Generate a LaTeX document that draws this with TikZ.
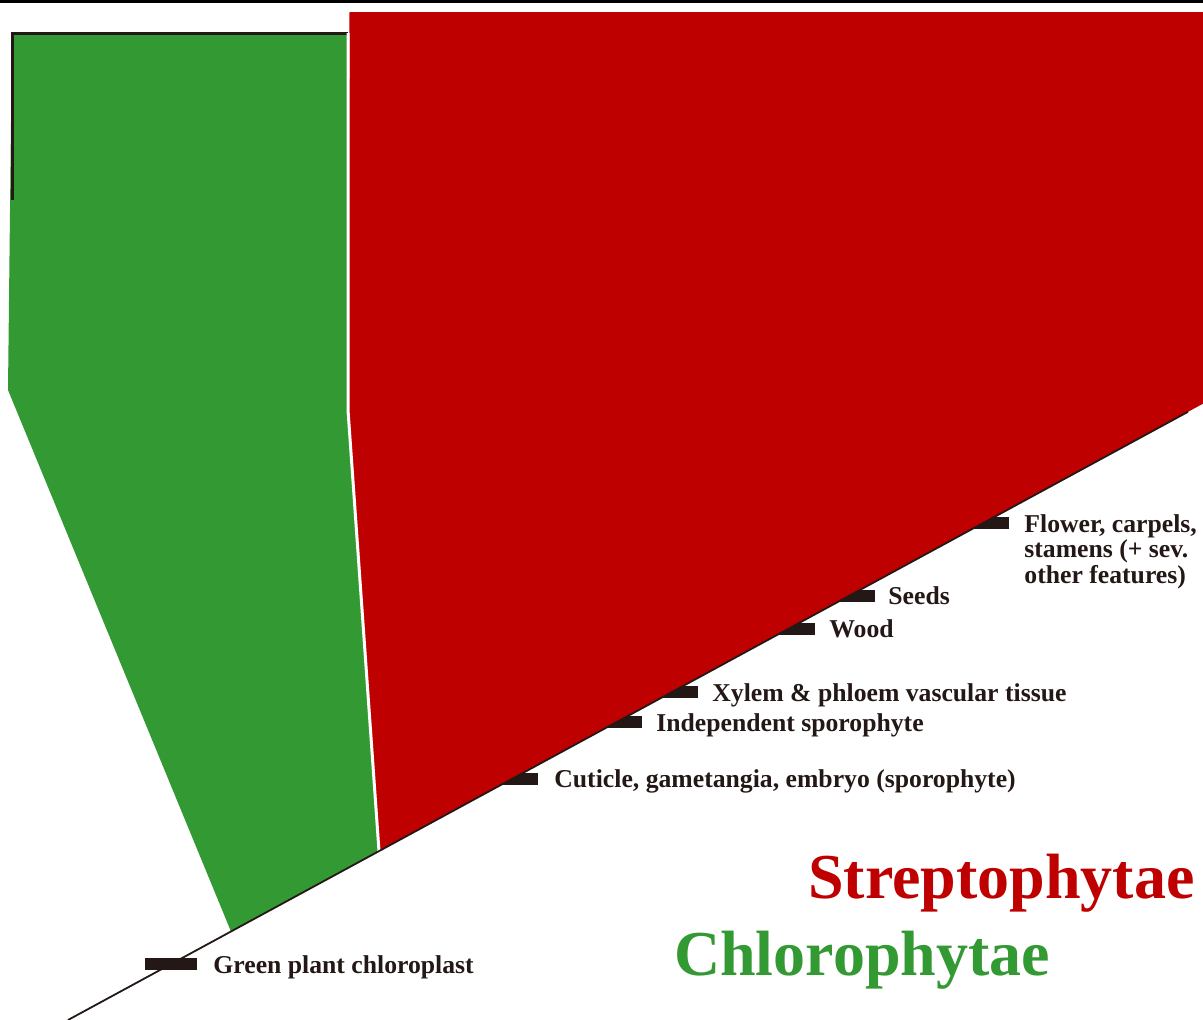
\documentclass[tikz,border=0pt]{standalone}
\usepackage{fontspec}
\setmainfont{Liberation Serif}
\definecolor{pgreen}{HTML}{339933}
\definecolor{pred}{HTML}{BF0000}
\definecolor{ink}{HTML}{231815}
\begin{document}
\begin{tikzpicture}[x=1pt,y=-1pt,
  tickbar/.style={fill=ink, draw=none, minimum width=52pt, minimum height=12pt, inner sep=0pt},
  lbl/.style={anchor=base west, inner sep=0pt, text=ink, font=\fontsize{25.7}{25.5}\selectfont\bfseries},
  biglbl/.style={anchor=base west, inner sep=0pt, font=\fontsize{64}{64}\selectfont\bfseries},
]
\useasboundingbox (0,0) rectangle (1203,1020);
\fill[black] (0,0) rectangle (1203,3);
% base line coordinates (y = 1020 - 0.543 (x-68))
\coordinate (b0) at (68,1020);
\coordinate (b1) at (1188,411.8);
\coordinate (bR) at (1203,403.7);
\coordinate (gB) at (231,931.5);
\coordinate (sB) at (379,851.1);
\coordinate (kink) at (348,410);
% ticks
\node[tickbar] (t1) at (171,964.1) {};
\node[tickbar] (t2) at (512,778.9) {};
\node[tickbar] (t3) at (616,722.4) {};
\node[tickbar] (t4) at (672,692.0) {};
\node[tickbar] (t5) at (789,628.5) {};
\node[tickbar] (t6) at (849,595.9) {};
\node[tickbar] (t7) at (983,523.2) {};
% green region
\fill[pgreen] (12,33) -- (348,33) -- (kink) -- (sB) -- (gB) -- (8,390) -- cycle;
\draw[ink, line width=3pt] (12,200) -- (12,33) -- (348,33);
% red region
\fill[pred] (349.5,12) -- (1203,12) -- (bR) -- (sB) -- (kink) -- cycle;
\draw[white, line width=3pt] (348,33) -- (kink) -- (sB);
% base line
\draw[ink, line width=1.8pt] (b0) -- (b1);
% labels
\node[lbl] (l1) at ([xshift=16pt,yshift=-9pt]t1.east) {Green plant chloroplast};
\node[lbl] (l2) at ([xshift=16pt,yshift=-9pt]t2.east) {Cuticle, gametangia, embryo (sporophyte)};
\node[lbl] (l3) at ([xshift=14pt,yshift=-9pt]t3.east) {Independent sporophyte};
\node[lbl] (l4) at ([xshift=14pt,yshift=-9pt]t4.east) {Xylem \& phloem vascular tissue};
\node[lbl] (l5) at ([xshift=14pt,yshift=-9pt]t5.east) {Wood};
\node[lbl] (l6) at ([xshift=13pt,yshift=-9pt]t6.east) {Seeds};
\node[lbl, align=left] (l7) at ([xshift=15pt,yshift=-60pt]t7.east) {Flower, carpels,\\stamens (+ sev.\\other features)};
\node[biglbl, text=pred] (strep) at (808,898) {Streptophytae};
\node[biglbl, text=pgreen] (chloro) at (674,975) {Chlorophytae};
\end{tikzpicture}
\end{document}
